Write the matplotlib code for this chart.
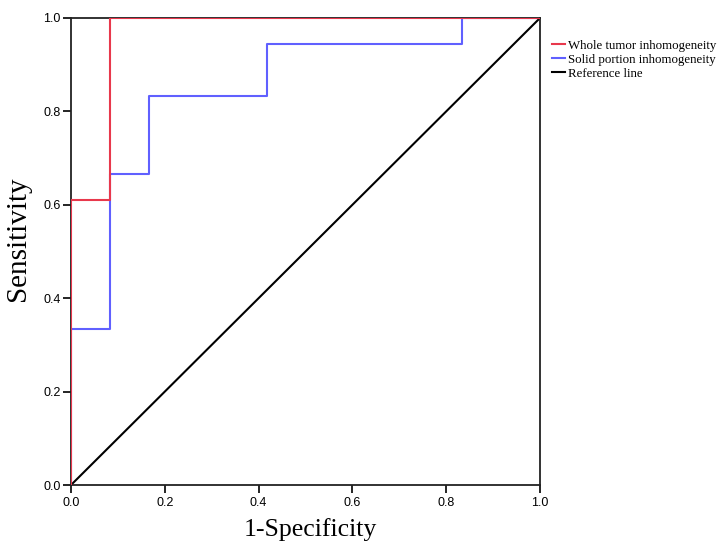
import matplotlib
matplotlib.use('Agg')
import matplotlib.pyplot as plt

# ROC step curves (1-specificity, sensitivity)
whole_x = [0.0, 0.0, 0.083, 0.083, 1.0]
whole_y = [0.0, 0.611, 0.611, 1.0, 1.0]
solid_x = [0.0, 0.0, 0.083, 0.083, 0.167, 0.167, 0.417, 0.417, 0.833, 0.833, 1.0]
solid_y = [0.0, 0.333, 0.333, 0.667, 0.667, 0.833, 0.833, 0.944, 0.944, 1.0, 1.0]
ref_x = [0.0, 1.0]
ref_y = [0.0, 1.0]
ticks = [0.0, 0.2, 0.4, 0.6, 0.8, 1.0]
tick_labels = ['0.0', '0.2', '0.4', '0.6', '0.8', '1.0']

fig = plt.figure(figsize=(7.24, 5.57), dpi=100)
ax = fig.add_axes([71 / 724, 1 - 485 / 557, 469 / 724, 467 / 557])

ax.plot(ref_x, ref_y, color='black', lw=1.5, label='Reference line', zorder=1)
ax.plot(solid_x, solid_y, color='#6060ff', lw=1.5, label='Solid portion inhomogeneity', zorder=2)
ax.plot(whole_x, whole_y, color='#e8384c', lw=1.5, label='Whole tumor inhomogeneity', zorder=3)

ax.set_xlim(0, 1)
ax.set_ylim(0, 1)
ax.set_xticks(ticks)
ax.set_xticklabels(tick_labels)
ax.set_yticks(ticks)
ax.set_yticklabels(tick_labels)
ax.tick_params(direction='out', length=6, width=1.2, labelsize=9, pad=1.5)
ax.tick_params(axis='x', pad=3)
for lbl in ax.get_xticklabels() + ax.get_yticklabels():
    lbl.set_family('Liberation Sans')
for sp in ax.spines.values():
    sp.set_linewidth(1.3)
    sp.set_color('#222222')

ax.set_xlabel('1-Specificity', family='Liberation Serif', fontsize=18.5)
ax.set_ylabel('Sensitivity', family='Liberation Serif', fontsize=21)
ax.xaxis.set_label_coords(0.51, -0.071)
ax.yaxis.set_label_coords(-0.085, 0.527)

handles, labels = ax.get_legend_handles_labels()
order = [2, 1, 0]
fig.legend([handles[i] for i in order], [labels[i] for i in order],
           loc='upper left', bbox_to_anchor=(540 / 724, 1 - 28 / 557),
           frameon=False, handlelength=1.05, handletextpad=0.25, labelspacing=0.15,
           prop={'family': 'Liberation Serif', 'size': 9.3})

fig.savefig('out.png', dpi=100, facecolor='white')
